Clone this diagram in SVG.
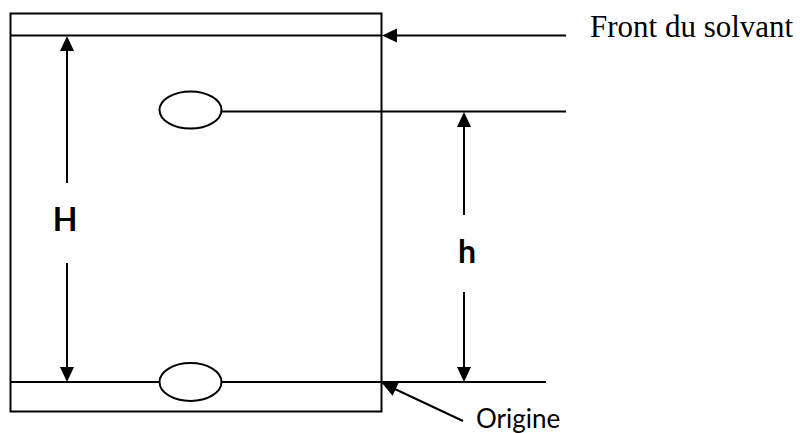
<svg xmlns="http://www.w3.org/2000/svg" width="800" height="433" viewBox="0 0 800 433">
  <style>
    .ln { stroke: #000; stroke-width: 2; fill: none; }
    .spot { stroke: #000; stroke-width: 2; fill: #fff; }
    .serif { font-family: "Liberation Serif", "Times New Roman", serif; font-size: 31px; fill: #000; }
    .lbl { font-family: Lato, "Open Sans", "Liberation Sans", sans-serif; font-weight: bold; font-size: 32px; fill: #000; }
    .sans { font-family: Lato, "Open Sans", "Liberation Sans", sans-serif; font-size: 26px; fill: #000; }
  </style>
  <defs>
    <marker id="ah" markerUnits="userSpaceOnUse" markerWidth="15" markerHeight="14" refX="9" refY="7" orient="auto" overflow="visible">
      <path d="M0,0 L15,7 L0,14 Z" fill="#000"/>
    </marker>
  </defs>
  <rect width="800" height="433" fill="#fff"/>

  <g id="plaque">
    <rect class="ln" x="10.5" y="13.5" width="371" height="398"/>
    <line class="ln" x1="10.5" y1="35.5" x2="381.5" y2="35.5"/>
  </g>

  <g id="ligne-origine">
    <line class="ln" x1="10.5" y1="382" x2="546" y2="382"/>
  </g>

  <g id="tache-haut">
    <line class="ln" x1="221" y1="111.5" x2="566" y2="111.5"/>
    <ellipse class="spot" cx="190.5" cy="110" rx="31" ry="18.5"/>
  </g>

  <g id="tache-bas">
    <ellipse class="spot" cx="190.5" cy="382" rx="31" ry="19"/>
  </g>

  <g id="connecteurs">
    <line class="ln" x1="566" y1="35.5" x2="388" y2="35.5" marker-end="url(#ah)"/>
    <line class="ln" x1="67" y1="183" x2="67" y2="42" marker-end="url(#ah)"/>
    <line class="ln" x1="67" y1="263" x2="67" y2="376" marker-end="url(#ah)"/>
    <line class="ln" x1="464" y1="215" x2="464" y2="118" marker-end="url(#ah)"/>
    <line class="ln" x1="464" y1="292" x2="464" y2="376" marker-end="url(#ah)"/>
    <line class="ln" x1="463" y1="421" x2="387.4" y2="385.5" marker-end="url(#ah)"/>
  </g>

  <g id="label-front">
    <text class="serif" x="590" y="37">Front du solvant</text>
  </g>
  <g id="label-H">
    <text class="lbl" x="65" y="231" text-anchor="middle">H</text>
  </g>
  <g id="label-h">
    <text class="lbl" x="467" y="263" text-anchor="middle">h</text>
  </g>
  <g id="label-origine">
    <text class="sans" x="476" y="428">Origine</text>
  </g>
</svg>
